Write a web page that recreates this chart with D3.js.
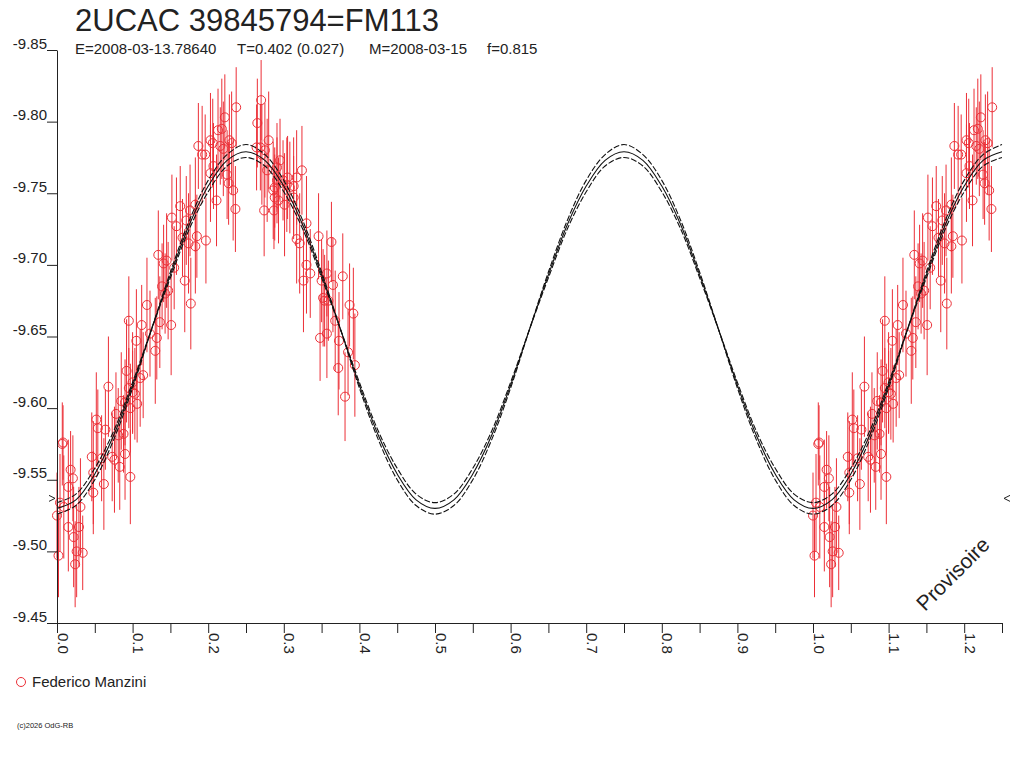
<!DOCTYPE html>
<html>
<head>
<meta charset="utf-8">
<script src="https://cdn.jsdelivr.net/npm/d3@7"></script>
<style>
    body { margin: 0; background: #fff; }
    svg { display: block; font-family: "Liberation Sans", Arial, sans-serif; }
</style>
</head>
<body>
<svg id="chart" width="1024" height="768"></svg>
<script>
"use strict";

// Texts
const titleText = "2UCAC 39845794=FM113";
const subtitleParts = ["E=2008-03-13.78640", "T=0.402 (0.027)", "M=2008-03-15", "f=0.815"];
const observerName = "Federico Manzini";
const copyrightText = "(c)2026 OdG-RB";
const stampText = "Provisoire";

// Axes
const xMajorTicks = [0.0, 0.1, 0.2, 0.3, 0.4, 0.5, 0.6, 0.7, 0.8, 0.9, 1.0, 1.1, 1.2];
const xMinorTicks = [0.05, 0.15, 0.25, 0.35, 0.45, 0.55, 0.65, 0.75, 0.85, 0.95, 1.05, 1.15, 1.25];
const yTicks = [-9.85, -9.80, -9.75, -9.70, -9.65, -9.60, -9.55, -9.50, -9.45];
const markerMag = -9.537;

// Model light curve over one cycle (phase 0 .. 0.5, step 0.025)
const modelStep = 0.025;
const modelCenter = [-9.530, -9.536, -9.554, -9.581, -9.616, -9.655, -9.693, -9.728, -9.755, -9.773, -9.779,
                     -9.773, -9.755, -9.728, -9.693, -9.655, -9.616, -9.581, -9.554, -9.536, -9.530];
const modelOuter  = [-9.526, -9.532, -9.550, -9.578, -9.614, -9.655, -9.695, -9.731, -9.759, -9.777, -9.784,
                     -9.777, -9.759, -9.731, -9.695, -9.655, -9.614, -9.578, -9.550, -9.532, -9.526];
const modelInner  = [-9.534, -9.540, -9.558, -9.584, -9.618, -9.655, -9.691, -9.725, -9.751, -9.769, -9.775,
                     -9.769, -9.751, -9.725, -9.691, -9.655, -9.618, -9.584, -9.558, -9.540, -9.534];

// Observations: [phase, magnitude, error]
const observations = [
    [0.000, -9.525, 0.030], [0.002, -9.497, 0.029], [0.004, -9.534, 0.034], [0.007, -9.575, 0.029],
    [0.008, -9.576, 0.026], [0.009, -9.531, 0.036], [0.015, -9.517, 0.031], [0.015, -9.545, 0.033],
    [0.018, -9.557, 0.027], [0.021, -9.551, 0.030], [0.022, -9.510, 0.035], [0.024, -9.491, 0.030],
    [0.026, -9.500, 0.032], [0.029, -9.517, 0.028], [0.031, -9.531, 0.034], [0.034, -9.499, 0.026],
    [0.046, -9.566, 0.031], [0.048, -9.555, 0.036], [0.048, -9.541, 0.029], [0.052, -9.592, 0.033],
    [0.054, -9.586, 0.027], [0.059, -9.565, 0.030], [0.062, -9.547, 0.032], [0.064, -9.585, 0.028],
    [0.068, -9.615, 0.035], [0.073, -9.566, 0.031], [0.076, -9.564, 0.037], [0.078, -9.596, 0.029],
    [0.081, -9.581, 0.033], [0.083, -9.559, 0.030], [0.085, -9.605, 0.034], [0.088, -9.582, 0.027],
    [0.090, -9.568, 0.032], [0.090, -9.604, 0.030], [0.092, -9.626, 0.036], [0.095, -9.614, 0.028],
    [0.097, -9.552, 0.033], [0.097, -9.600, 0.031], [0.100, -9.618, 0.035], [0.100, -9.611, 0.029],
    [0.103, -9.610, 0.032], [0.106, -9.603, 0.027], [0.110, -9.621, 0.034], [0.114, -9.623, 0.030],
    [0.095, -9.661, 0.031], [0.105, -9.647, 0.036], [0.112, -9.658, 0.028], [0.119, -9.672, 0.033],
    [0.123, -9.652, 0.030], [0.130, -9.640, 0.037], [0.132, -9.649, 0.029], [0.136, -9.660, 0.032],
    [0.151, -9.658, 0.035], [0.139, -9.685, 0.030], [0.143, -9.680, 0.028], [0.147, -9.682, 0.034],
    [0.134, -9.707, 0.031], [0.141, -9.701, 0.027], [0.145, -9.703, 0.033], [0.155, -9.698, 0.029],
    [0.169, -9.689, 0.036], [0.177, -9.673, 0.032], [0.152, -9.733, 0.030], [0.158, -9.727, 0.034],
    [0.163, -9.741, 0.028], [0.171, -9.731, 0.031], [0.174, -9.715, 0.035], [0.185, -9.720, 0.029],
    [0.183, -9.713, 0.033], [0.197, -9.717, 0.030], [0.166, -9.719, 0.027], [0.176, -9.738, 0.032],
    [0.187, -9.783, 0.030], [0.192, -9.777, 0.034], [0.196, -9.777, 0.028], [0.203, -9.787, 0.033],
    [0.206, -9.785, 0.031], [0.213, -9.794, 0.029], [0.218, -9.795, 0.035], [0.222, -9.803, 0.030],
    [0.237, -9.810, 0.028], [0.228, -9.787, 0.032], [0.231, -9.785, 0.036], [0.216, -9.783, 0.027],
    [0.220, -9.781, 0.033], [0.207, -9.769, 0.030], [0.203, -9.764, 0.034], [0.225, -9.763, 0.031],
    [0.227, -9.757, 0.029], [0.233, -9.752, 0.035], [0.211, -9.745, 0.032], [0.236, -9.739, 0.030],
    [0.183, -9.742, 0.033], [0.270, -9.815, 0.028], [0.265, -9.799, 0.031], [0.280, -9.787, 0.034],
    [0.269, -9.782, 0.030], [0.275, -9.780, 0.033], [0.295, -9.773, 0.029], [0.278, -9.766, 0.036],
    [0.291, -9.768, 0.031], [0.299, -9.759, 0.028], [0.286, -9.752, 0.034], [0.293, -9.745, 0.030],
    [0.274, -9.738, 0.032], [0.287, -9.738, 0.027], [0.304, -9.756, 0.033], [0.264, -9.782, 0.030],
    [0.271, -9.777, 0.035], [0.324, -9.766, 0.031], [0.305, -9.761, 0.029], [0.317, -9.761, 0.033],
    [0.291, -9.759, 0.030], [0.313, -9.755, 0.034], [0.288, -9.754, 0.028], [0.308, -9.754, 0.032],
    [0.288, -9.747, 0.030], [0.301, -9.742, 0.036], [0.313, -9.747, 0.029], [0.330, -9.729, 0.033],
    [0.317, -9.718, 0.031], [0.321, -9.715, 0.035], [0.346, -9.720, 0.030], [0.363, -9.716, 0.028],
    [0.330, -9.700, 0.034], [0.335, -9.694, 0.031], [0.326, -9.689, 0.036], [0.350, -9.689, 0.029],
    [0.365, -9.686, 0.033], [0.378, -9.692, 0.030], [0.354, -9.675, 0.032], [0.359, -9.675, 0.028],
    [0.368, -9.661, 0.035], [0.357, -9.652, 0.031], [0.348, -9.649, 0.030], [0.373, -9.647, 0.034],
    [0.387, -9.672, 0.029], [0.392, -9.666, 0.032], [0.385, -9.639, 0.030], [0.394, -9.630, 0.036],
    [0.372, -9.628, 0.033], [0.381, -9.608, 0.031], [0.357, -9.694, 0.030], [0.352, -9.677, 0.034]
];

const ink = "#222";
const curveInk = "#111";
const red = "#ec2f37";
const phaseMax = 1.25;

const svg = d3.select("#chart");

// Scales
const x = d3.scaleLinear().domain([0, phaseMax]).range([57, 1002]);
const y = d3.scaleLinear().domain([-9.45, -9.85]).range([623, 50]);

// Title block
svg.append("text")
    .attr("x", 75).attr("y", 31)
    .attr("font-size", 31).attr("fill", ink)
    .text(titleText);

const subtitleX = [75, 237, 369, 487];
svg.append("g").selectAll("text")
    .data(subtitleParts)
    .enter().append("text")
    .attr("x", (d, i) => subtitleX[i]).attr("y", 54)
    .attr("font-size", 15).attr("fill", ink)
    .text(d => d);

// Expand points to the phase range shown (repeat cycle after phase 1)
let plotted = [];
observations.forEach(o => {
    plotted.push(o);
    if (o[0] + 1 <= phaseMax) plotted.push([o[0] + 1, o[1], o[2]]);
});

// Error bars
svg.append("g").selectAll("line")
    .data(plotted)
    .enter().append("line")
    .attr("x1", d => x(d[0])).attr("x2", d => x(d[0]))
    .attr("y1", d => y(d[1] - d[2])).attr("y2", d => y(d[1] + d[2]))
    .attr("stroke", red).attr("stroke-width", 1);

// Points
svg.append("g").selectAll("circle")
    .data(plotted)
    .enter().append("circle")
    .attr("cx", d => x(d[0])).attr("cy", d => y(d[1]))
    .attr("r", 4.5)
    .attr("fill", "none").attr("stroke", red).attr("stroke-width", 1);

// Model curves
function modelSeries(table) {
    let n = table.length - 1, pts = [];
    let steps = Math.round(phaseMax / modelStep);
    for (let i = 0; i <= steps; i++) {
        pts.push([i * modelStep, table[i % n]]);
    }
    return pts;
}
let line = d3.line()
    .x(d => x(d[0])).y(d => y(d[1]))
    .curve(d3.curveCatmullRom);

svg.append("path").datum(modelSeries(modelOuter))
    .attr("d", line).attr("fill", "none")
    .attr("stroke", curveInk).attr("stroke-width", 1.1).attr("stroke-dasharray", "6,2");
svg.append("path").datum(modelSeries(modelInner))
    .attr("d", line).attr("fill", "none")
    .attr("stroke", curveInk).attr("stroke-width", 1.1).attr("stroke-dasharray", "6,2");
svg.append("path").datum(modelSeries(modelCenter))
    .attr("d", line).attr("fill", "none")
    .attr("stroke", curveInk).attr("stroke-width", 1.1);

// X axis: major with labels, minor without
let xAxis = svg.append("g")
    .attr("transform", "translate(0," + y(-9.45) + ")")
    .call(d3.axisBottom(x).tickValues(xMajorTicks).tickSize(10).tickSizeOuter(0)
        .tickFormat(d => d.toFixed(1)));
xAxis.selectAll("text")
    .attr("x", 0).attr("y", 0).attr("dy", null)
    .attr("transform", "translate(0,10) rotate(90)")
    .style("text-anchor", "start")
    .attr("font-size", 15).attr("fill", ink);

svg.append("g")
    .attr("transform", "translate(0," + y(-9.45) + ")")
    .call(d3.axisBottom(x).tickValues(xMinorTicks).tickSize(10).tickSizeOuter(0)
        .tickFormat(""))
    .select(".domain").remove();

// Y axis
let yAxis = svg.append("g")
    .attr("transform", "translate(" + x(0) + ",0)")
    .call(d3.axisLeft(y).tickValues(yTicks).tickSize(10).tickSizeOuter(0)
        .tickFormat(d => d.toFixed(2)));
yAxis.selectAll("text")
    .attr("x", -10).attr("dy", -2)
    .style("text-anchor", "end")
    .attr("font-size", 15).attr("fill", ink);

svg.selectAll(".domain, .tick line").attr("stroke", ink);
svg.selectAll(".tick text").attr("font-family", "'Liberation Sans', Arial, sans-serif");

// Level markers at both ends
let my = y(markerMag);
svg.append("path")
    .attr("d", `M${x(0) - 8},${my - 3}L${x(0) - 2},${my}L${x(0) - 8},${my + 3}`)
    .attr("fill", "none").attr("stroke", ink);
svg.append("path")
    .attr("d", `M${x(phaseMax) + 8},${my - 3}L${x(phaseMax) + 2},${my}L${x(phaseMax) + 8},${my + 3}`)
    .attr("fill", "none").attr("stroke", ink);

// Stamp
svg.append("text")
    .attr("transform", "translate(925,612) rotate(-45)")
    .attr("font-size", 21).attr("fill", ink)
    .text(stampText);

// Legend
svg.append("circle")
    .attr("cx", 21).attr("cy", 682).attr("r", 4.5)
    .attr("fill", "none").attr("stroke", red);
svg.append("text")
    .attr("x", 32).attr("y", 687)
    .attr("font-size", 15).attr("fill", ink)
    .text(observerName);

// Copyright
svg.append("text")
    .attr("x", 17).attr("y", 728)
    .attr("font-size", 7.5).attr("fill", ink)
    .text(copyrightText);
</script>
</body>
</html>
